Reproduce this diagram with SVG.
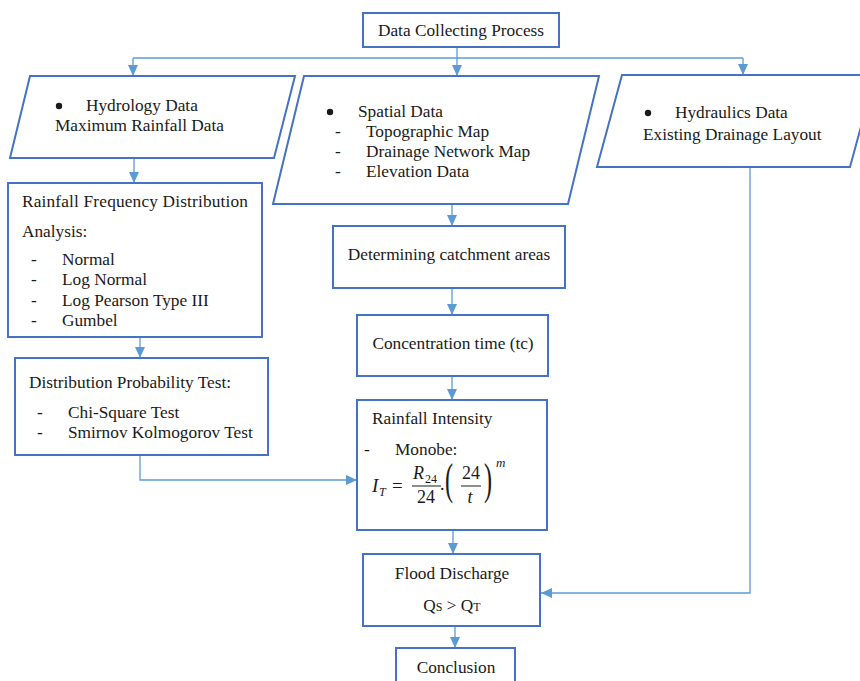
<svg xmlns="http://www.w3.org/2000/svg" width="860" height="681" viewBox="0 0 860 681" font-family="'Liberation Serif', 'DejaVu Serif', serif">
<style>
.box{fill:#fff;stroke:#4472C4;stroke-width:2}
.con{fill:none;stroke:#5B9BD5;stroke-width:1.3}
text{font-family:'Liberation Serif','DejaVu Serif',serif;font-size:17.3px;fill:#1a1a1a}
.mid{text-anchor:middle}
.m{font-style:italic}
.f19{font-size:19px}
.f18{font-size:18px}
.f12{font-size:12px}
.f13{font-size:13px}
.f44{font-size:44px}
</style>
<defs>
<marker id="ah" markerUnits="userSpaceOnUse" markerWidth="12" markerHeight="12" viewBox="0 0 12 12" refX="11" refY="6" orient="auto">
<path d="M0,1 L11,6 L0,11 Z" fill="#5B9BD5"/>
</marker>
</defs>
<rect width="860" height="681" fill="#fff"/>

<g id="connectors">
<path class="con" d="M457,47 V58"/>
<path class="con" d="M133,58 H743"/>
<path class="con" d="M133,58 V76" marker-end="url(#ah)"/>
<path class="con" d="M457,58 V76" marker-end="url(#ah)"/>
<path class="con" d="M743,58 V75" marker-end="url(#ah)"/>
<path class="con" d="M134,158 V183" marker-end="url(#ah)"/>
<path class="con" d="M140,337 V358" marker-end="url(#ah)"/>
<path class="con" d="M140,455 V480 H357" marker-end="url(#ah)"/>
<path class="con" d="M452,204 V226" marker-end="url(#ah)"/>
<path class="con" d="M452,288 V315" marker-end="url(#ah)"/>
<path class="con" d="M452,376 V400" marker-end="url(#ah)"/>
<path class="con" d="M453,530 V554" marker-end="url(#ah)"/>
<path class="con" d="M750,167 V593 H541" marker-end="url(#ah)"/>
<path class="con" d="M455,626 V648" marker-end="url(#ah)"/>
</g>

<g id="data-collecting">
<rect class="box" x="363" y="13" width="196" height="34"/>
<text class="mid" x="461" y="36">Data Collecting Process</text>
</g>

<g id="hydrology">
<polygon class="box" points="30,76 295,76 274,158 10,158"/>
<circle cx="59" cy="106" r="3.2" fill="#1a1a1a"/>
<text x="86" y="111">Hydrology Data</text>
<text x="55" y="131">Maximum Rainfall Data</text>
</g>

<g id="spatial">
<polygon class="box" points="304,76 599,76 568,204 273,204"/>
<circle cx="330" cy="112" r="3.2" fill="#1a1a1a"/>
<text x="358" y="117">Spatial Data</text>
<text x="335" y="137">-</text><text x="366" y="137">Topographic Map</text>
<text x="335" y="157">-</text><text x="366" y="157">Drainage Network Map</text>
<text x="335" y="177">-</text><text x="366" y="177">Elevation Data</text>
</g>

<g id="hydraulics">
<polygon class="box" points="622,75 875,75 850,167 597,167"/>
<circle cx="648" cy="113" r="3.2" fill="#1a1a1a"/>
<text x="675" y="118">Hydraulics Data</text>
<text x="643" y="140">Existing Drainage Layout</text>
</g>

<g id="frequency">
<rect class="box" x="8" y="183" width="254" height="154"/>
<text x="22" y="207" textLength="226" lengthAdjust="spacing">Rainfall Frequency Distribution</text>
<text x="22" y="237">Analysis:</text>
<text x="31" y="265">-</text><text x="62" y="265">Normal</text>
<text x="31" y="285">-</text><text x="62" y="285">Log Normal</text>
<text x="31" y="306">-</text><text x="62" y="306">Log Pearson Type III</text>
<text x="31" y="326">-</text><text x="62" y="326">Gumbel</text>
</g>

<g id="probability">
<rect class="box" x="15" y="358" width="253" height="97"/>
<text x="29" y="388">Distribution Probability Test:</text>
<text x="37" y="418">-</text><text x="68" y="418">Chi-Square Test</text>
<text x="37" y="438">-</text><text x="68" y="438">Smirnov Kolmogorov Test</text>
</g>

<g id="catchment">
<rect class="box" x="333" y="226" width="232" height="62"/>
<text class="mid" x="449" y="260">Determining catchment areas</text>
</g>

<g id="concentration">
<rect class="box" x="357" y="315" width="191" height="61"/>
<text class="mid" x="453" y="349">Concentration time (tc)</text>
</g>

<g id="intensity">
<rect class="box" x="357" y="400" width="190" height="130"/>
<text x="372" y="424">Rainfall Intensity</text>
<text x="364" y="455">-</text><text x="395" y="455">Monobe:</text>
<text class="m f19" x="372" y="492">I</text>
<text class="m f12" x="379" y="496">T</text>
<text class="f19" x="392" y="492">=</text>
<text class="m f18" x="413" y="479">R</text>
<text class="f12" x="425" y="483">24</text>
<line x1="412" y1="486" x2="441" y2="486" stroke="#1a1a1a" stroke-width="1"/>
<text class="mid f18" x="426" y="503">24</text>
<text class="f18" x="440" y="490">.</text>
<text class="f44" transform="translate(445,494) scale(0.55,1)">(</text>
<text class="mid f18" x="471" y="479">24</text>
<line x1="461" y1="486" x2="481" y2="486" stroke="#1a1a1a" stroke-width="1"/>
<text class="mid m f18" x="470" y="503">t</text>
<text class="f44" transform="translate(484,494) scale(0.55,1)">)</text>
<text class="m f13" x="496" y="467">m</text>
</g>

<g id="flood">
<rect class="box" x="363" y="554" width="177" height="72"/>
<text class="mid" x="452" y="579">Flood Discharge</text>
<text class="mid" x="452" y="611">Q<tspan class="f12">S</tspan> &gt; Q<tspan class="f12">T</tspan></text>
</g>

<g id="conclusion">
<rect class="box" x="396" y="648" width="119" height="40"/>
<text class="mid" x="456" y="673">Conclusion</text>
</g>
</svg>
